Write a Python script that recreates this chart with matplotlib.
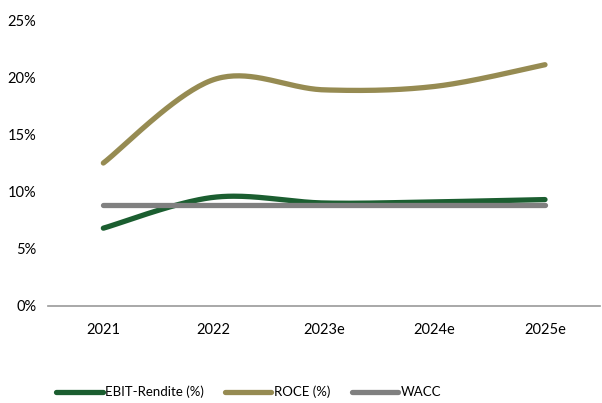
import matplotlib.pyplot as plt
import numpy as np
from matplotlib.ticker import FuncFormatter

plt.rcParams['font.family'] = ['Lato', 'DejaVu Sans']

years = ['2021', '2022', '2023e', '2024e', '2025e']
ebit = [6.8, 9.5, 9.0, 9.1, 9.3]
roce = [12.5, 19.8, 18.9, 19.2, 21.1]
wacc = [8.8, 8.8, 8.8, 8.8, 8.8]


def smooth(y, n=40):
    # Catmull-Rom spline through the points, like Excel's smoothed line
    y = np.asarray(y, dtype=float)
    x = np.arange(len(y), dtype=float)
    px = np.concatenate([[x[0]], x, [x[-1]]])
    py = np.concatenate([[y[0]], y, [y[-1]]])
    xs, ys = [], []
    for i in range(1, len(px) - 2):
        t = np.linspace(0, 1, n)
        for arr, out in ((px, xs), (py, ys)):
            p0, p1, p2, p3 = arr[i - 1], arr[i], arr[i + 1], arr[i + 2]
            out.extend(0.5 * (2 * p1 + (-p0 + p2) * t
                              + (2 * p0 - 5 * p1 + 4 * p2 - p3) * t ** 2
                              + (-p0 + 3 * p1 - 3 * p2 + p3) * t ** 3))
    return xs, ys


fig = plt.figure(figsize=(6.02, 4.03), dpi=100)
ax = fig.add_axes([0.08, 0.241, 0.917, 0.709])

lw = 3.8
for vals, color, label in [(ebit, '#1b5e30', 'EBIT-Rendite (%)'),
                           (roce, '#968b52', 'ROCE (%)'),
                           (wacc, '#808080', 'WACC')]:
    xs, ys = smooth(vals)
    ax.plot(xs, ys, color=color, lw=lw, label=label, solid_capstyle='round')

ax.set_xlim(-0.5, 4.5)
ax.set_ylim(0, 25)
ax.set_yticks(range(0, 26, 5))
ax.yaxis.set_major_formatter(FuncFormatter(lambda v, p: f'{v:.0f}%'))
ax.set_xticks(range(len(years)))
ax.set_xticklabels(years)
for s in ['top', 'right', 'left']:
    ax.spines[s].set_visible(False)
ax.spines['bottom'].set_color('#999999')
ax.spines['bottom'].set_linewidth(1.2)
ax.tick_params(axis='both', length=0, labelsize=10.5, colors='#000000')
ax.tick_params(axis='x', pad=12)
ax.tick_params(axis='y', pad=8.5)

fig.legend(loc='center', bbox_to_anchor=(0.413, 0.027), ncol=3, frameon=False,
           fontsize=9.5, handlelength=3.5, columnspacing=1.6, handletextpad=0.2)

fig.savefig('out.png', dpi=100)
